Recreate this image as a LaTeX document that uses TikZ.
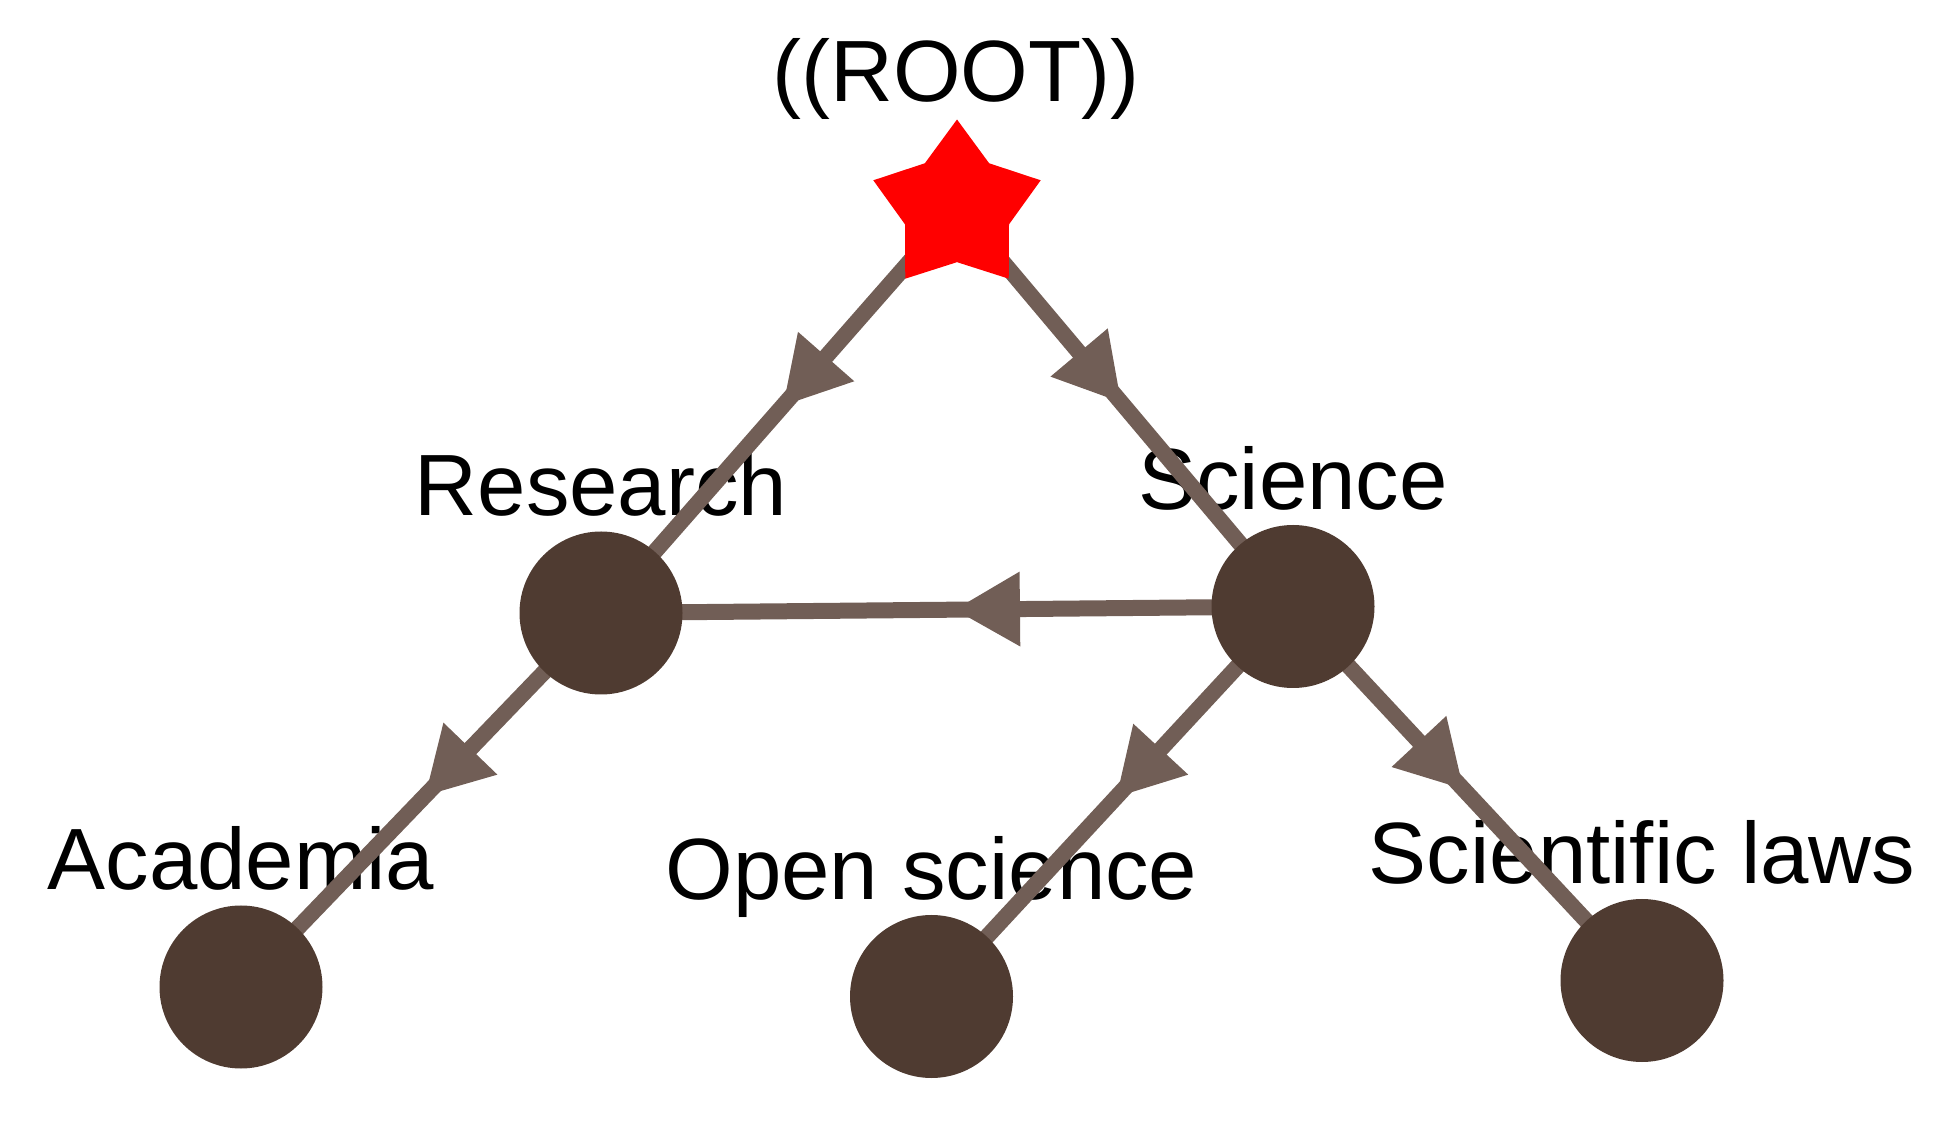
\documentclass[tikz,border=0pt]{standalone}
\usepackage{fontspec}
\setmainfont{Liberation Sans}
\usetikzlibrary{arrows.meta,decorations.markings,shapes.geometric}
\definecolor{edgecol}{RGB}{113,94,86}
\definecolor{nodecol}{RGB}{79,59,49}
\pgfdeclarelayer{lbllayer}
\pgfdeclarelayer{edgelayer}
\pgfsetlayers{lbllayer,edgelayer,main}
\tikzset{
  vert/.style={circle, fill=nodecol, draw=none, minimum size=163bp, inner sep=0pt},
  rootstar/.style={star, star points=5, star point ratio=1.61, fill=red, draw=none, minimum size=176bp, inner sep=0pt},
  lbl/.style={anchor=base, inner sep=0pt, font=\fontsize{87bp}{100bp}\selectfont},
  edge/.style={draw=edgecol, line width=16bp,
    postaction={decorate, decoration={markings,
      mark=at position 0.49 with {\arrow[edgecol]{Triangle[length=66bp,width=70bp]}}}}}
}
\begin{document}
\begin{tikzpicture}[x=1bp,y=1bp]
\useasboundingbox (0,0) rectangle (1959,1135);
% nodes
\node[rootstar] (root) at (957,927.5) {};
\node[vert] (research) at (601,522) {};
\node[vert] (science) at (1293,528.5) {};
\node[vert] (academia) at (241,148) {};
\node[vert] (open) at (931.5,138.5) {};
\node[vert] (laws) at (1642,154.5) {};
% labels
\begin{pgfonlayer}{lbllayer}
\node[lbl] (lroot) at (956,1033) {((ROOT))};
\node[lbl] (lresearch) at (601,619) {Research};
\node[lbl] (lscience) at (1293,625.5) {Science};
\node[lbl] (lacademia) at (241,245) {Academia};
\node[lbl] (lopen) at (931.5,235.5) {Open science};
\node[lbl] (llaws) at (1642,251.5) {Scientific laws};
\end{pgfonlayer}
% edges
\begin{pgfonlayer}{edgelayer}
\draw[edge] (root.center) -- (research.center);
\draw[edge] (root.center) -- (science.center);
\draw[edge] (science.center) -- (research.center);
\draw[edge] (research.center) -- (academia.center);
\draw[edge] (science.center) -- (open.center);
\draw[edge] (science.center) -- (laws.center);
\end{pgfonlayer}
\end{tikzpicture}
\end{document}
